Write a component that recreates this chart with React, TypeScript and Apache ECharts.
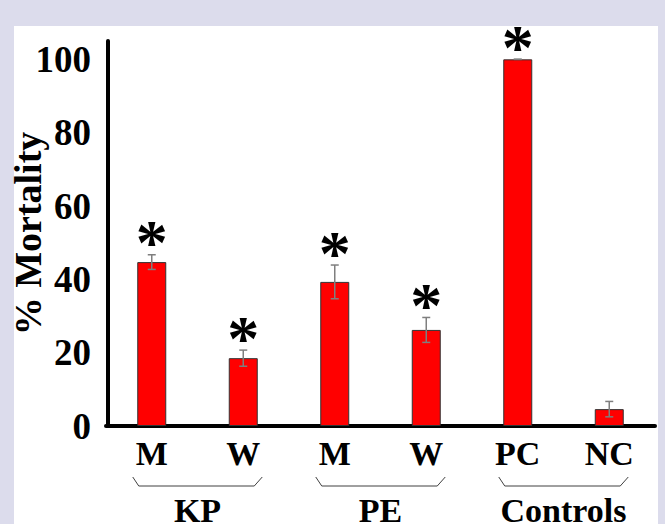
import React, { useEffect, useRef } from "react";
import * as echarts from "echarts";

// Treatment categories along the x axis
const categories = ["M", "W", "M", "W", "PC", "NC"];
// Mean mortality (%) per treatment
const mortality = [44.7, 18.5, 39.3, 26.2, 100, 4.6];
// Standard error per treatment
const stdError = [2.0, 2.2, 4.6, 3.4, 0, 2.1];
// Significance markers drawn above each bar
const significance = ["*", "*", "*", "*", "*", ""];
// Grouping of the categories under a bracket
const groupNames = ["KP", "PE", "Controls"];
const groupStart = [0, 2, 4];
const groupEnd = [1, 3, 5];

const FONT = "'Liberation Serif', 'Times New Roman', serif";

export default function App() {
  const ref = useRef<HTMLDivElement>(null);

  useEffect(() => {
    document.body.style.margin = "0";
    if (!ref.current) return;
    const chart = echarts.init(ref.current, null, { renderer: "svg" });

    chart.setOption({
      animation: false,
      grid: { left: 106, right: 10, top: 41, bottom: 98, outerBoundsMode: "none", containLabel: false },
      xAxis: {
        type: "category",
        data: categories,
        axisLine: { show: true, lineStyle: { color: "#000", width: 4 } },
        axisTick: { show: false },
        axisLabel: {
          color: "#000",
          fontFamily: FONT,
          fontWeight: "bold",
          fontSize: 34,
          margin: 10,
        },
      },
      yAxis: {
        type: "value",
        min: 0,
        max: 105,
        interval: 20,
        offset: -2,
        name: "% Mortality",
        nameLocation: "middle",
        nameRotate: 90,
        nameGap: 61,
        nameMoveOverlap: false,
        nameTextStyle: {
          color: "#000",
          fontFamily: FONT,
          fontWeight: "bold",
          fontSize: 38,
        },
        axisLine: { show: true, lineStyle: { color: "#000", width: 4 } },
        axisTick: { show: false },
        splitLine: { show: false },
        axisLabel: {
          showMaxLabel: false,
          color: "#000",
          fontFamily: FONT,
          fontWeight: "bold",
          fontSize: 37,
          margin: 17,
          padding: [0, 0, 8, 0],
        },
      },
      series: [
        {
          type: "bar",
          data: mortality,
          barWidth: 29,
          itemStyle: { color: "#ff0000", borderColor: "#333", borderWidth: 1 },
        },
        {
          type: "custom",
          z: 3,
          data: mortality.map((m, i) => [i, m, stdError[i]]),
          renderItem: (params: any, api: any) => {
            const x = api.value(0);
            const m = api.value(1);
            const e = api.value(2);
            const hi = api.coord([x, m + e]);
            const lo = api.coord([x, m - e]);
            const cap = 4;
            const stroke = { stroke: "#7f7f7f", lineWidth: 1.5 };
            const children: any[] = [
              { type: "line", shape: { x1: hi[0], y1: hi[1], x2: lo[0], y2: lo[1] }, style: stroke },
              { type: "line", shape: { x1: hi[0] - cap, y1: hi[1], x2: hi[0] + cap, y2: hi[1] }, style: stroke },
              { type: "line", shape: { x1: lo[0] - cap, y1: lo[1], x2: lo[0] + cap, y2: lo[1] }, style: stroke },
            ];
            const star = significance[params.dataIndex];
            if (star) {
              children.push({
                type: "text",
                style: {
                  text: star,
                  x: hi[0],
                  y: hi[1] - 12,
                  align: "center",
                  verticalAlign: "middle",
                  fill: "#000",
                  fontFamily: FONT,
                  fontWeight: "bold",
                  fontSize: 64,
                },
              });
            }
            return { type: "group", children };
          },
        },
      ],
    });

    // Brackets and group names beneath the category labels
    const axisY = chart.convertToPixel({ yAxisIndex: 0 }, 0) as number;
    const graphics: any[] = [];
    groupNames.forEach((name, g) => {
      const xa = chart.convertToPixel({ xAxisIndex: 0 }, groupStart[g]) as number;
      const xb = chart.convertToPixel({ xAxisIndex: 0 }, groupEnd[g]) as number;
      graphics.push({
        type: "polyline",
        shape: {
          points: [
            [xa - 19, axisY + 51],
            [xa - 13, axisY + 60],
            [xb + 11, axisY + 60],
            [xb + 19, axisY + 51],
          ],
        },
        style: { stroke: "#404040", lineWidth: 1, fill: null },
      });
      graphics.push({
        type: "text",
        x: (xa + xb) / 2,
        y: axisY + 84,
        style: {
          text: name,
          align: "center",
          verticalAlign: "middle",
          fill: "#000",
          fontFamily: FONT,
          fontWeight: "bold",
          fontSize: 34,
        },
      });
    });
    chart.setOption({ graphic: graphics });

    return () => chart.dispose();
  }, []);

  return (
    <div style={{ position: "relative", width: 665, height: 524, background: "#dcdcec", overflow: "hidden" }}>
      <div style={{ position: "absolute", left: 14, top: 26, width: 644, height: 498, background: "#fff" }} />
      <div ref={ref} style={{ position: "absolute", left: 0, top: 0, width: 665, height: 524 }} />
    </div>
  );
}
